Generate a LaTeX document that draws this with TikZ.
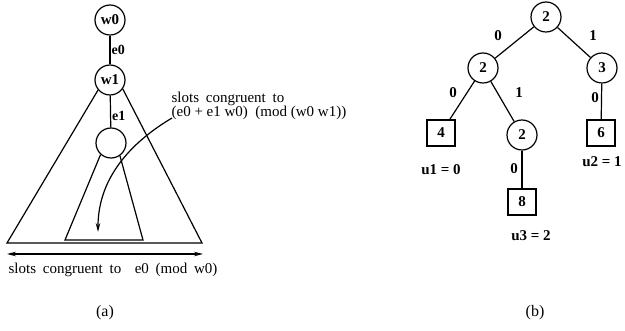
\documentclass[tikz,border=0pt]{standalone}
\usepackage{fontspec}
\setmainfont{Liberation Serif}
\newfontfamily\widefont[WordSpace=1.8]{Liberation Serif}
\usetikzlibrary{arrows.meta, positioning, calc}
\tikzset{
	vtx/.style      ={circle, draw=black, line width=1.2pt, minimum size=30pt, inner sep=0pt, font=\fontsize{15}{15}\selectfont\bfseries},
	leaf/.style     ={rectangle, draw=black, line width=1.2pt, minimum width=28pt, minimum height=26pt, inner sep=0pt, font=\fontsize{15}{15}\selectfont\bfseries},
	elbl/.style     ={font=\fontsize{15}{15}\selectfont\bfseries, inner sep=0pt},
	note/.style     ={font=\fontsize{15}{13}\selectfont, inner sep=0pt, align=left},
	sublbl/.style   ={font=\fontsize{16}{16}\selectfont, inner sep=0pt},
	slotarrow/.style={-{Stealth[length=9pt, width=4.5pt]}, line width=1.2pt},
	span/.style     ={{Stealth[length=9pt, width=4.5pt]}-{Stealth[length=9pt, width=4.5pt]}, line width=1.2pt},
}
\begin{document}
\begin{tikzpicture}[x=1pt, y=-1pt, line width=1.2pt]
	\useasboundingbox (0,0) rectangle (625,331);
	% (a) slot ranges
	\node[vtx] (w0) at (110,20) {w0};
	\node[vtx] (w1) at (110,80) {w1};
	\node[vtx] (c2) at (111,143) {};
	\coordinate (bl) at (7,243);
	\coordinate (br) at (202,243);
	\coordinate (il) at (65,240);
	\coordinate (ir) at (143,240);
	\coordinate (al) at (7,254);
	\coordinate (ar) at (203,254);
	\coordinate (cs) at (172,118);
	\coordinate (ce) at (98,232);
	\draw (w0) -- node[right, font=\fontsize{14}{14}\selectfont\bfseries, inner sep=1pt] {e0} (w1);
	\draw (w1) -- node[pos=0.65, right, font=\fontsize{14}{14}\selectfont\bfseries, inner sep=1pt] {e1} (c2);
	\draw (w1.220) -- (bl) -- (br) -- (w1.325);
	\draw (c2.228) -- (il) -- (ir) -- (c2.305);
	\draw[span] (al) -- (ar);
	\draw[slotarrow] (cs) .. controls (135,140) and (98,175) .. (ce);
	\node[note, anchor=west] (inner) at (171,106) {{\widefont slots congruent to}\\(e0 + e1 w0)\ \ (mod (w0 w1))};
	\node[note, font=\widefont\fontsize{15}{13}\selectfont] (outer) at (113,270) {slots congruent to\ \ e0 (mod w0)};
	\node[sublbl] (suba) at (105,313) {(a)};
	% (b) tree
	\node[vtx] (root) at (546,17) {2};
	\node[vtx] (nl) at (483,68) {2};
	\node[vtx] (nr) at (602,68) {3};
	\node[leaf] (l4) at (441,133) {4};
	\node[vtx] (nm) at (522,135) {2};
	\node[leaf] (l6) at (601,133) {6};
	\node[leaf] (l8) at (522,202) {8};
	\draw (root) -- (nl);
	\draw (root) -- (nr);
	\draw (nl) -- (l4);
	\draw (nl) -- (nm);
	\draw (nr) -- (l6);
	\draw (nm) -- (l8);
	\node[elbl] (b1) at (498,36) {0};
	\node[elbl] (b2) at (593,36) {1};
	\node[elbl] (b3) at (453,93) {0};
	\node[elbl] (b4) at (519,93) {1};
	\node[elbl] (b5) at (595,98) {0};
	\node[elbl] (b6) at (514,169) {0};
	\node[elbl] (u1) at (441,170) {u1 = 0};
	\node[elbl] (u2) at (602,162) {u2 = 1};
	\node[elbl] (u3) at (531,236) {u3 = 2};
	\node[sublbl] (subb) at (535,313) {(b)};
\end{tikzpicture}
\end{document}
